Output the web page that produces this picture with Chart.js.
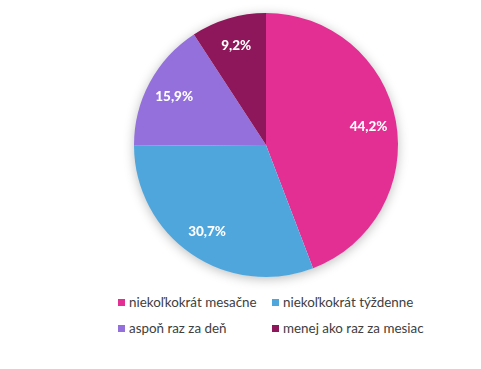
<!DOCTYPE html>
<html>
<head>
<meta charset="utf-8">
<script src="https://cdn.jsdelivr.net/npm/chart.js@4"></script>
<style>
  html, body { margin: 0; padding: 0; background: #fff; }
  #wrap { position: relative; width: 481px; height: 369px; }
  #chartBox { position: absolute; left: 0; top: 0; width: 481px; height: 290px; }
  .leg { position: absolute; font-family: Lato, "Liberation Sans", sans-serif; font-size: 13.4px; color: #404040; white-space: nowrap; line-height: 16px; }
  .leg i { display: inline-block; width: 7px; height: 7px; margin-right: 4px; vertical-align: 1px; }
</style>
</head>
<body>
<div id="wrap">
  <div id="chartBox"><canvas id="c"></canvas></div>
  <div id="legend"></div>
</div>
<script>
const categories = ["niekoľkokrát mesačne", "niekoľkokrát týždenne", "aspoň raz za deň", "menej ako raz za mesiac"];
const values = [44.2, 30.7, 15.9, 9.2];
const valueLabels = ["44,2%", "30,7%", "15,9%", "9,2%"];
const colors = ["#E32E93", "#4FA6DC", "#9370DC", "#8E165A"];

const shadowPlugin = {
  id: 'pieShadow',
  beforeDatasetsDraw(chart) {
    const arc = chart.getDatasetMeta(0).data[0];
    if (!arc) return;
    const ctx = chart.ctx;
    ctx.save();
    ctx.shadowColor = 'rgba(0,0,0,0.28)';
    ctx.shadowBlur = 12;
    ctx.shadowOffsetY = 2;
    ctx.fillStyle = '#ffffff';
    ctx.beginPath();
    ctx.arc(arc.x, arc.y, arc.outerRadius - 0.5, 0, Math.PI * 2);
    ctx.fill();
    ctx.restore();
  }
};

const labelPlugin = {
  id: 'pieLabels',
  afterDatasetsDraw(chart) {
    const ctx = chart.ctx;
    const meta = chart.getDatasetMeta(0);
    ctx.save();
    ctx.font = '900 13.5px Lato, "Liberation Sans", sans-serif';
    ctx.fillStyle = '#ffffff';
    ctx.textAlign = 'center';
    ctx.textBaseline = 'middle';
    meta.data.forEach((a, i) => {
      const mid = (a.startAngle + a.endAngle) / 2;
      const r = a.outerRadius * 0.79;
      ctx.fillText(valueLabels[i], a.x + Math.cos(mid) * r, a.y + Math.sin(mid) * r + 1);
    });
    ctx.restore();
  }
};

new Chart(document.getElementById('c'), {
  type: 'pie',
  data: {
    labels: categories,
    datasets: [{ data: values, backgroundColor: colors, borderWidth: 0 }]
  },
  options: {
    responsive: true,
    maintainAspectRatio: false,
    animation: false,
    layout: { padding: { top: 13, bottom: 13, left: 51, right: 0 } },
    plugins: { legend: { display: false }, tooltip: { enabled: false } }
  },
  plugins: [shadowPlugin, labelPlugin]
});

const legPos = [[118, 294], [272, 294], [118, 320], [272, 320]];
const legend = document.getElementById('legend');
categories.forEach((cat, i) => {
  const d = document.createElement('div');
  d.className = 'leg';
  d.style.left = legPos[i][0] + 'px';
  d.style.top = legPos[i][1] + 'px';
  d.innerHTML = '<i style="background:' + colors[i] + '"></i>' + cat;
  legend.appendChild(d);
});
</script>
</body>
</html>
